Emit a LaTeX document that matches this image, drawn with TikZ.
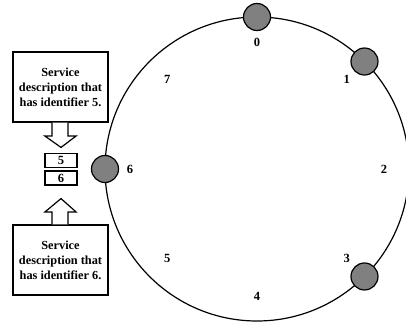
\documentclass[tikz,border=0pt]{standalone}
\usepackage{fontspec}
\setmainfont{Liberation Serif}
\usetikzlibrary{calc}
\begin{document}
\begin{tikzpicture}[x=1pt,y=-1pt,
  peer/.style={circle,draw,line width=1.2pt,fill=black!50,minimum size=27pt,inner sep=0pt},
  lab/.style={font=\bfseries\fontsize{12.5}{14}\selectfont},
  desc/.style={draw,line width=1.2pt,minimum width=95pt,minimum height=70pt,align=center,font=\bfseries\fontsize{12.3}{15}\selectfont,inner sep=0pt},
  idbox/.style={draw,line width=1.2pt,minimum width=32pt,minimum height=14pt,inner sep=0pt,font=\bfseries\fontsize{12.5}{13}\selectfont},
  blockarrow/.style={line width=1.2pt,fill=white}]
\useasboundingbox (0,0) rectangle (406,323);
\coordinate (c) at (257,169);
\draw[line width=1.2pt] (c) circle (152);
\foreach \i/\a in {0/90,1/45,3/-45,6/180}{
  \node[peer] (p\i) at ($(c)+({cos(\a)*152},{-sin(\a)*152})$) {};
}
\foreach \i in {0,...,7}{
  \pgfmathsetmacro{\ang}{90-45*\i}
  \node[lab] (l\i) at ($(c)+({cos(\ang)*127},{-sin(\ang)*127})$) {\i};
}
\node[desc] (d5) at (60.5,87) {Service\\description that\\has identifier 5.};
\node[desc] (d6) at (60.5,260) {Service\\description that\\has identifier 6.};
\node[idbox] (b5) at (61,160.5) {5};
\node[idbox] (b6) at (61,178) {6};
\draw[blockarrow] ($(d5.south)+(-8.5,0)$) -- ++(0,13.5) -- ++(-7,0) -- ($(b5.north)+(0,-5.5)$) -- ($(d5.south)+(15.5,13.5)$) -- ++(-8,0) -- ($(d5.south)+(7.5,0)$);
\draw[blockarrow] ($(d6.north)+(-8.5,0)$) -- ++(0,-12.5) -- ++(-7,0) -- ($(b6.south)+(0,13)$) -- ($(d6.north)+(15.5,-12.5)$) -- ++(-8,0) -- ($(d6.north)+(7.5,0)$);
\end{tikzpicture}
\end{document}
